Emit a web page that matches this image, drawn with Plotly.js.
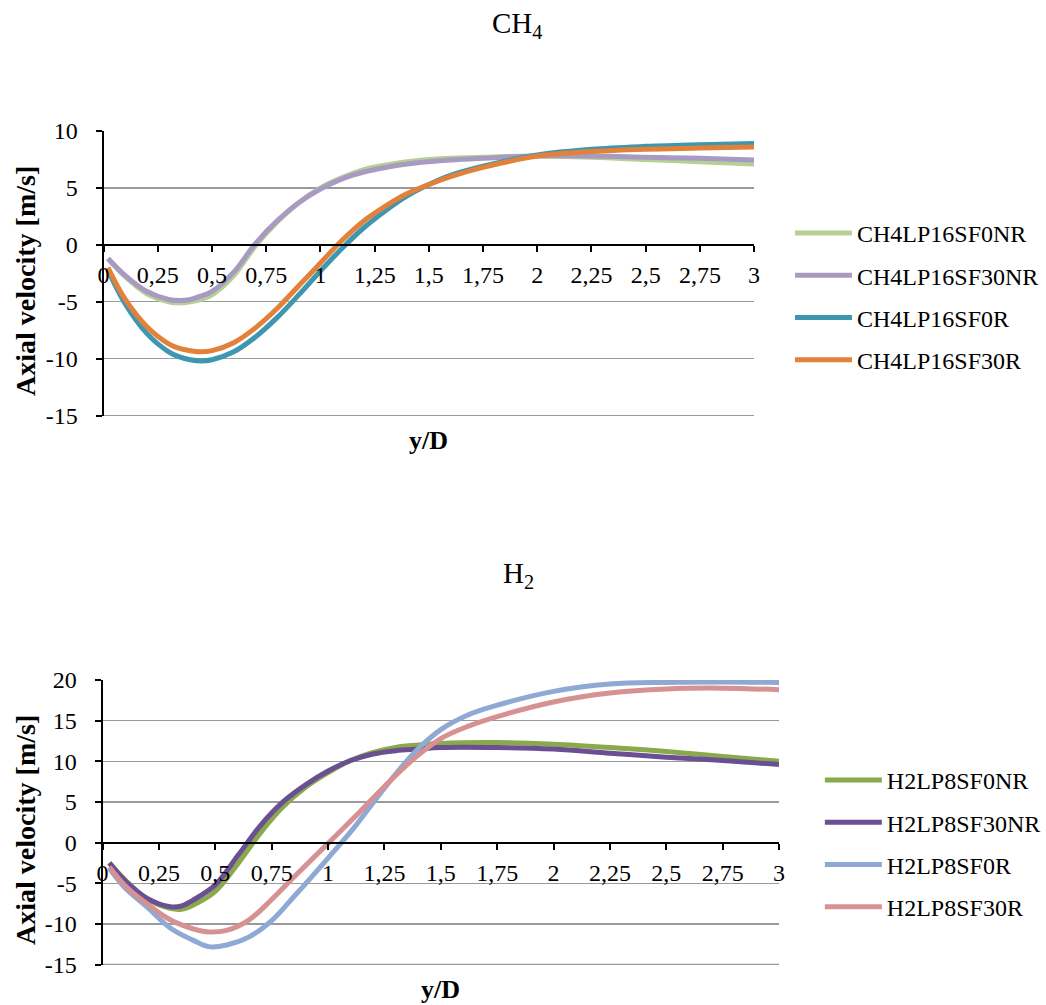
<!DOCTYPE html>
<html>
<head>
<meta charset="utf-8">
<script src="https://cdn.plot.ly/plotly-3.0.1.min.js"></script>
<style>html,body{margin:0;padding:0;background:#fff;}#chart{width:1046px;height:1005px;}</style>
</head>
<body>
<div id="chart"></div>
<script>
// ---- CH4 chart data ----
const xCH4 = [0.02, 0.1, 0.2, 0.3, 0.35, 0.4, 0.45, 0.5, 0.6, 0.7, 0.8, 0.9, 1.0, 1.1, 1.2, 1.3, 1.4, 1.5, 1.6, 1.75, 2.0, 2.25, 2.5, 2.75, 3.0];
const CH4LP16SF0NR  = [-1.2, -2.8, -4.3, -5.0, -5.1, -5.0, -4.8, -4.4, -2.7, -0.1, 2.0, 3.7, 5.0, 5.9, 6.6, 7.0, 7.3, 7.5, 7.6, 7.7, 7.8, 7.7, 7.5, 7.3, 7.1];
const CH4LP16SF30NR = [-1.2, -2.7, -4.1, -4.8, -4.9, -4.8, -4.5, -4.1, -2.4, 0.1, 2.1, 3.7, 4.9, 5.8, 6.4, 6.8, 7.1, 7.3, 7.45, 7.6, 7.8, 7.8, 7.7, 7.6, 7.45];
const CH4LP16SF0R   = [-2.2, -5.2, -7.8, -9.4, -9.85, -10.1, -10.2, -10.1, -9.4, -8.1, -6.4, -4.4, -2.3, -0.3, 1.5, 3.0, 4.3, 5.3, 6.1, 6.9, 7.9, 8.4, 8.65, 8.8, 8.9];
const CH4LP16SF30R  = [-2.0, -4.8, -7.2, -8.7, -9.1, -9.3, -9.4, -9.3, -8.6, -7.3, -5.6, -3.6, -1.6, 0.4, 2.1, 3.4, 4.5, 5.3, 6.0, 6.8, 7.8, 8.2, 8.4, 8.5, 8.6];

// ---- H2 chart data ----
const xH2NR = [0.03, 0.1, 0.2, 0.3, 0.35, 0.4, 0.5, 0.6, 0.7, 0.8, 0.9, 1.0, 1.1, 1.2, 1.3, 1.4, 1.5, 1.75, 2.0, 2.25, 2.5, 2.75, 3.0];
const H2LP8SF0NR  = [-2.5, -4.6, -7.0, -8.1, -8.2, -7.7, -6.0, -2.6, 1.2, 4.4, 6.8, 8.6, 10.1, 11.1, 11.7, 12.0, 12.2, 12.3, 12.1, 11.7, 11.2, 10.6, 10.0];
const H2LP8SF30NR = [-2.5, -4.7, -6.9, -7.9, -7.8, -7.1, -5.2, -1.6, 2.1, 5.0, 7.1, 8.8, 10.1, 10.9, 11.3, 11.5, 11.7, 11.7, 11.5, 11.0, 10.5, 10.1, 9.6];
const xH2R = [0.03, 0.1, 0.2, 0.3, 0.4, 0.47, 0.55, 0.65, 0.75, 0.85, 1.0, 1.12, 1.25, 1.38, 1.5, 1.62, 1.75, 2.0, 2.25, 2.5, 2.75, 3.0];
const H2LP8SF0R   = [-3.2, -5.6, -8.0, -10.5, -12.0, -12.8, -12.6, -11.6, -9.6, -6.6, -1.9, 2.0, 6.7, 11.0, 13.9, 15.7, 16.9, 18.6, 19.5, 19.7, 19.75, 19.7];
const H2LP8SF30R  = [-3.0, -5.3, -7.6, -9.5, -10.6, -11.0, -10.8, -9.5, -7.0, -4.2, -0.1, 3.2, 6.9, 10.3, 12.8, 14.3, 15.5, 17.3, 18.4, 18.9, 19.0, 18.8];

// ---- tick labels ----
const xTickVals = [0, 0.25, 0.5, 0.75, 1, 1.25, 1.5, 1.75, 2, 2.25, 2.5, 2.75, 3];
const xTickText = ['0', '0,25', '0,5', '0,75', '1', '1,25', '1,5', '1,75', '2', '2,25', '2,5', '2,75', '3'];
const yTickValsCH4 = [-15, -10, -5, 0, 5, 10];
const yTickTextCH4 = ['-15', '-10', '-5', '0', '5', '10'];
const yTickValsH2 = [-15, -10, -5, 0, 5, 10, 15, 20];
const yTickTextH2 = ['-15', '-10', '-5', '0', '5', '10', '15', '20'];

const W = 1046, H = 1005;
const px = v => v / W;
const py = v => 1 - v / H;
const FONT = 'Liberation Serif, Times New Roman, serif';
const GRID = '#9a9a9a';

function tr(x, y, name, color, xa, ya, leg) {
  return {
    x: x, y: y, name: name, type: 'scatter', mode: 'lines',
    line: {color: color, width: 5, shape: 'spline', smoothing: 1},
    xaxis: xa, yaxis: ya, legend: leg, legendgroup: name, hoverinfo: 'skip'
  };
}

const data = [
  tr(xCH4, CH4LP16SF0NR, 'CH4LP16SF0NR', '#b5cf94', 'x', 'y', 'legend'),
  tr(xCH4, CH4LP16SF30NR, 'CH4LP16SF30NR', '#a89ac2', 'x', 'y', 'legend'),
  tr(xCH4, CH4LP16SF0R, 'CH4LP16SF0R', '#3e97b1', 'x', 'y', 'legend'),
  tr(xCH4, CH4LP16SF30R, 'CH4LP16SF30R', '#e2823a', 'x', 'y', 'legend'),
  tr(xH2NR, H2LP8SF0NR, 'H2LP8SF0NR', '#8aa84c', 'x2', 'y2', 'legend2'),
  tr(xH2NR, H2LP8SF30NR, 'H2LP8SF30NR', '#6a5092', 'x2', 'y2', 'legend2'),
  tr(xH2R, H2LP8SF0R, 'H2LP8SF0R', '#8ea9d3', 'x2', 'y2', 'legend2'),
  tr(xH2R, H2LP8SF30R, 'H2LP8SF30R', '#d69292', 'x2', 'y2', 'legend2')
];

function xAxis(domain, pos) {
  return {
    domain: domain, range: [0, 3], anchor: 'free', position: pos,
    showline: true, linecolor: '#000', linewidth: 2,
    ticks: 'outside', ticklen: 6, tickwidth: 2, tickcolor: '#000',
    tickmode: 'array', tickvals: xTickVals, ticktext: xTickText,
    ticklabelstandoff: 2,
    showgrid: false, zeroline: false, fixedrange: true,
    tickfont: {family: FONT, size: 24, color: '#000'}
  };
}
function yAxis(domain, range, vals, text, anchor) {
  return {
    domain: domain, range: range, anchor: anchor,
    showline: true, linecolor: '#000', linewidth: 2,
    ticks: 'outside', ticklen: 6, tickwidth: 2, tickcolor: '#000',
    tickmode: 'array', tickvals: vals, ticktext: text,
    ticklabelstandoff: 13,
    showgrid: true, gridcolor: GRID, gridwidth: 1.3,
    zeroline: false, fixedrange: true,
    tickfont: {family: FONT, size: 24, color: '#000'}
  };
}

const legendBase = {
  xanchor: 'left', yanchor: 'top',
  font: {family: FONT, size: 24, color: '#000'},
  tracegroupgap: 8, itemwidth: 57, bgcolor: 'rgba(0,0,0,0)',
  itemclick: false, itemdoubleclick: false
};

const layout = {
  width: W, height: H,
  margin: {l: 0, r: 0, t: 0, b: 0},
  paper_bgcolor: '#fff', plot_bgcolor: 'rgba(0,0,0,0)',
  showlegend: true,
  font: {family: FONT, color: '#000'},
  xaxis: xAxis([px(104), px(757)], py(245)),
  yaxis: yAxis([py(416), py(131)], [-15.04, 10], yTickValsCH4, yTickTextCH4, 'x'),
  xaxis2: xAxis([px(103), px(782)], py(843)),
  yaxis2: yAxis([py(965), py(680)], [-15.06, 20], yTickValsH2, yTickTextH2, 'x2'),
  legend: Object.assign({x: px(793), y: py(211)}, legendBase),
  legend2: Object.assign({x: px(823), y: py(758)}, legendBase),
  // bottom gridline (-15) of each chart, which Plotly omits at the axis edge
  shapes: [
    {type: 'line', xref: 'x domain', yref: 'y', x0: 0, x1: 1, y0: yTickValsCH4[0], y1: yTickValsCH4[0],
     line: {color: GRID, width: 1.3}, layer: 'below'},
    {type: 'line', xref: 'x2 domain', yref: 'y2', x0: 0, x1: 1, y0: yTickValsH2[0], y1: yTickValsH2[0],
     line: {color: GRID, width: 1.3}, layer: 'below'}
  ],
  annotations: [
    {text: 'CH<sub>4</sub>', x: px(519), y: py(25)},
    {text: 'H<sub>2</sub>', x: px(520), y: py(575)},
    {text: '<b>y/D</b>', x: px(430), y: py(440), size: 26},
    {text: '<b>y/D</b>', x: px(442), y: py(989), size: 26},
    {text: '<b>Axial velocity [m/s]</b>', x: px(25), y: py(281), size: 28, textangle: -90},
    {text: '<b>Axial velocity [m/s]</b>', x: px(25), y: py(830), size: 28, textangle: -90}
  ].map(a => ({
    text: a.text, x: a.x, y: a.y, xref: 'paper', yref: 'paper', showarrow: false,
    xanchor: 'center', yanchor: 'middle', textangle: a.textangle || 0,
    font: {family: FONT, size: a.size || 29, color: '#000'}
  }))
};

Plotly.newPlot('chart', data, layout, {staticPlot: true, displayModeBar: false});
</script>
</body>
</html>
